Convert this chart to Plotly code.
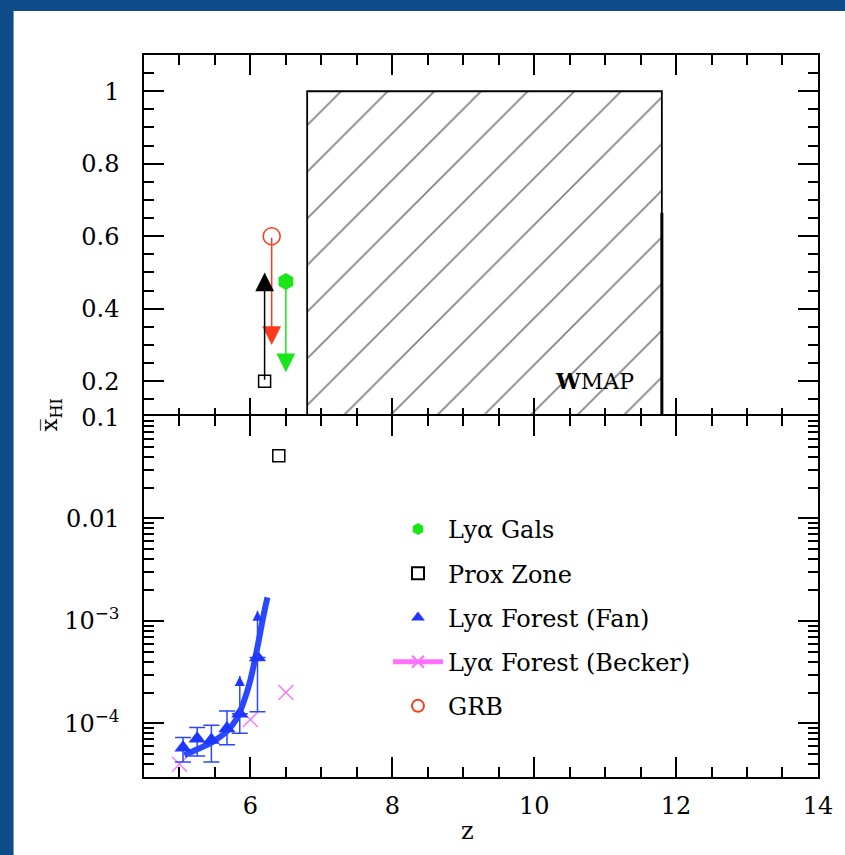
import numpy as np
import plotly.graph_objects as go
from plotly.subplots import make_subplots

# ---------------- data ----------------
gals_z = [6.5]
gals_xhi = [0.475]
gals_limit = [0.225]          # upper limit arrow tip

grb_z = [6.3]
grb_xhi = [0.6]
grb_limit = [0.3]             # upper limit arrow tip

prox_z_top = [6.2]
prox_xhi_top = [0.2]
prox_limit_top = [0.5]        # lower limit arrow tip
prox_z_low = [6.4]
prox_xhi_low = [0.041]

fan_z = [5.05, 5.25, 5.45, 5.67, 5.85, 6.1]
fan_xhi = [5.8e-5, 7.1e-5, 6.9e-5, 8.9e-5, 1.24e-4, 4.4e-4]
fan_lo = [4.2e-5, 4.8e-5, 4.2e-5, 6.2e-5, 8.0e-5, 1.3e-4]
fan_hi = [7.3e-5, 9.1e-5, 9.6e-5, 1.32e-4, 2.9e-4, 1.26e-3]
fan_capped = [True, True, True, True, False, False]

fan_fit_z = [5.07, 5.25, 5.45, 5.67, 5.8, 5.9, 6.0, 6.1, 6.18, 6.24]
fan_fit_xhi = [4.9e-5, 5.6e-5, 6.5e-5, 8.4e-5, 1.09e-4, 1.58e-4, 2.66e-4, 5.6e-4, 1.09e-3, 1.7e-3]

becker_z = [5.0, 6.0, 6.5]
becker_xhi = [4.0e-5, 1.09e-4, 2.0e-4]

wmap_z = [6.8, 11.8]
wmap_xhi = [0.1, 1.0]
wmap_edge_xhi = 0.665

legend_labels = ["Lyα Gals", "Prox Zone", "Lyα Forest (Fan)", "Lyα Forest (Becker)", "GRB"]

x_ticks = [6, 8, 10, 12, 14]
top_ticks = [0.1, 0.2, 0.4, 0.6, 0.8, 1.0]
top_ticktext = ["0.1", "0.2", "0.4", "0.6", "0.8", "1"]
low_ticks = [1e-4, 1e-3, 1e-2]
low_ticktext = ["10<sup>−4</sup>", "10<sup>−3</sup>", "0.01"]

# ---------------- styles ----------------
FONT = "DejaVu Serif"
BLUE = "#1f36ff"
BLUE_LINE = "#2a48ff"
GREEN = "#19e619"
RED = "#ff3a1c"
MAGENTA = "#ff70ff"
PAGE_BLUE = "#0f4c8a"

fig = make_subplots(rows=2, cols=1, shared_xaxes=True, vertical_spacing=0)

# WMAP hatched box
fig.add_trace(go.Scatter(
    x=[wmap_z[0], wmap_z[0], wmap_z[1], wmap_z[1], wmap_z[0]],
    y=[wmap_xhi[0], wmap_xhi[1], wmap_xhi[1], wmap_xhi[0], wmap_xhi[0]],
    mode="lines", fill="toself", fillcolor="white",
    fillpattern=dict(shape="/", size=33, solidity=0.05, fgcolor="black", bgcolor="white"),
    line=dict(color="black", width=1.8), showlegend=False, hoverinfo="skip"),
    row=1, col=1)
fig.add_trace(go.Scatter(
    x=[wmap_z[1], wmap_z[1]], y=[wmap_xhi[0], wmap_edge_xhi],
    mode="lines", line=dict(color="black", width=3), showlegend=False, hoverinfo="skip"),
    row=1, col=1)

# top-panel limits
fig.add_trace(go.Scatter(
    x=gals_z, y=gals_xhi, mode="markers", name=legend_labels[0], legendrank=1,
    legendgroup="g1",
    marker=dict(symbol="hexagon", size=17, color=GREEN, line=dict(width=0))),
    row=1, col=1)
fig.add_trace(go.Scatter(
    x=prox_z_top, y=prox_xhi_top, mode="markers", name=legend_labels[1], legendrank=2,
    legendgroup="g2",
    marker=dict(symbol="square-open", size=12, color="black", line=dict(width=1.5))),
    row=1, col=1)
fig.add_trace(go.Scatter(
    x=grb_z, y=grb_xhi, mode="markers", name=legend_labels[4], legendrank=5,
    legendgroup="g5",
    marker=dict(symbol="circle-open", size=17, color=RED, line=dict(width=1.5))),
    row=1, col=1)

# bottom panel
fig.add_trace(go.Scatter(
    x=prox_z_low, y=prox_xhi_low, mode="markers", showlegend=False,
    marker=dict(symbol="square-open", size=12, color="black", line=dict(width=1.5))),
    row=2, col=1)

fig.add_trace(go.Scatter(
    x=becker_z, y=becker_xhi, mode="markers", showlegend=False,
    marker=dict(symbol="x-thin-open", size=15, color=MAGENTA, line=dict(width=1.3, color=MAGENTA))),
    row=2, col=1)

fig.add_trace(go.Scatter(
    x=fan_fit_z, y=fan_fit_xhi, mode="lines", line=dict(color=BLUE_LINE, width=6, shape="spline"),
    showlegend=False, hoverinfo="skip"),
    row=2, col=1)

up = [(h - v) if c else 0 for h, v, c in zip(fan_hi, fan_xhi, fan_capped)]
down = [v - l for v, l in zip(fan_xhi, fan_lo)]
fig.add_trace(go.Scatter(
    x=fan_z, y=fan_xhi, mode="markers", name=legend_labels[2], legendrank=3,
    legendgroup="g3",
    marker=dict(symbol="triangle-up", size=15, color=BLUE),
    error_y=dict(type="data", symmetric=False, array=up, arrayminus=down,
                 color=BLUE_LINE, thickness=1.5, width=8)),
    row=2, col=1)

open_z = [z for z, c in zip(fan_z, fan_capped) if not c]
open_v = [v for v, c in zip(fan_xhi, fan_capped) if not c]
open_h = [h for h, c in zip(fan_hi, fan_capped) if not c]
fig.add_trace(go.Scatter(
    x=open_z, y=open_h, mode="markers", showlegend=False,
    marker=dict(symbol="arrow-up", size=10, color=BLUE),
    error_y=dict(type="data", symmetric=False, array=[0] * len(open_h),
                 arrayminus=[h - v for h, v in zip(open_h, open_v)],
                 color=BLUE_LINE, thickness=1.5, width=0)),
    row=2, col=1)

# legend entry for Becker
fig.add_trace(go.Scatter(
    x=[None], y=[None], mode="lines+markers", name=legend_labels[3], legendrank=4,
    legendgroup="g4",
    line=dict(color=MAGENTA, width=6),
    marker=dict(symbol="x-thin-open", size=12, color=MAGENTA, line=dict(width=1.3, color=MAGENTA))),
    row=2, col=1)

# arrows for limits
def limit_arrow(z, y0, y1, color):
    fig.add_annotation(x=z, y=y1, ax=z, ay=y0, xref="x", yref="y", axref="x", ayref="y",
                       text="", showarrow=True, arrowhead=2, arrowsize=2.5, arrowwidth=1.5,
                       arrowcolor=color, standoff=0, startstandoff=0)

limit_arrow(grb_z[0], grb_xhi[0], grb_limit[0], RED)
limit_arrow(gals_z[0], gals_xhi[0], gals_limit[0], GREEN)
limit_arrow(prox_z_top[0], prox_xhi_top[0], prox_limit_top[0], "black")

fig.add_annotation(x=10.85, y=0.2, xref="x", yref="y", text="<b>W</b>MAP", showarrow=False,
                   font=dict(family=FONT, size=22, color="black"))

# axes
tick_common = dict(showline=True, linecolor="black", linewidth=1.5, mirror="allticks",
                   ticks="inside", ticklen=20, tickwidth=1.5, tickcolor="black",
                   showgrid=False, zeroline=False,
                   tickfont=dict(family=FONT, size=24, color="black"))

fig.update_xaxes(range=[4.5, 14.001], tickvals=x_ticks,
                 minor=dict(dtick=0.5, tick0=0, ticks="inside", ticklen=10, tickwidth=1.5,
                            tickcolor="black", showgrid=False),
                 **tick_common)
fig.update_xaxes(showticklabels=False, row=1, col=1)
fig.update_xaxes(showticklabels=True, ticklabelstandoff=6, row=2, col=1)

fig.update_yaxes(range=[0.1, 1.1], tickvals=top_ticks, ticktext=top_ticktext,
                 minor=dict(dtick=0.05, tick0=0, ticks="inside", ticklen=10, tickwidth=1.5,
                            tickcolor="black", showgrid=False),
                 ticklabelstandoff=18, row=1, col=1, **tick_common)

minor_log = [k * 10.0 ** e for e in range(-5, -1) for k in range(2, 10)]
fig.update_yaxes(type="log", range=[np.log10(3e-5), -1], tickvals=low_ticks, ticktext=low_ticktext,
                 minor=dict(tickvals=minor_log, ticks="inside", ticklen=10, tickwidth=1.5,
                            tickcolor="black", showgrid=False),
                 ticklabelstandoff=18, row=2, col=1, **tick_common)

fig.update_layout(yaxis=dict(domain=[0.498, 1.0]), yaxis2=dict(domain=[0.0, 0.5]))

# axis titles as annotations
fig.add_annotation(x=0.48, y=-0.097, xref="paper", yref="paper", text="z", showarrow=False,
                   font=dict(family=FONT, size=24, color="black"))
fig.add_annotation(x=-0.163, y=0.501, xref="paper", yref="paper", text="x\u0305<sub>HI</sub>",
                   showarrow=False, textangle=-90, font=dict(family=FONT, size=23, color="black"))

# white page on blue background
fig.add_shape(type="rect", xref="paper", yref="paper", x0=-0.1935, x1=1.2, y0=-0.3, y1=1.061,
              fillcolor="white", line=dict(width=0), layer="below")

fig.update_layout(
    width=845, height=855,
    margin=dict(l=144, r=19, t=55, b=78),
    paper_bgcolor=PAGE_BLUE, plot_bgcolor="white",
    font=dict(family=FONT, size=22, color="black"),
    legend=dict(x=0.362, y=0.374, xanchor="left", yanchor="top", bgcolor="rgba(0,0,0,0)",
                font=dict(family=FONT, size=24, color="black"),
                itemsizing="constant", itemwidth=50, tracegroupgap=10, traceorder="grouped"),
    showlegend=True,
)

fig.write_html("out.html", config={"displayModeBar": False},
               post_script="document.body.style.margin='0';document.body.style.background='%s';" % PAGE_BLUE)
